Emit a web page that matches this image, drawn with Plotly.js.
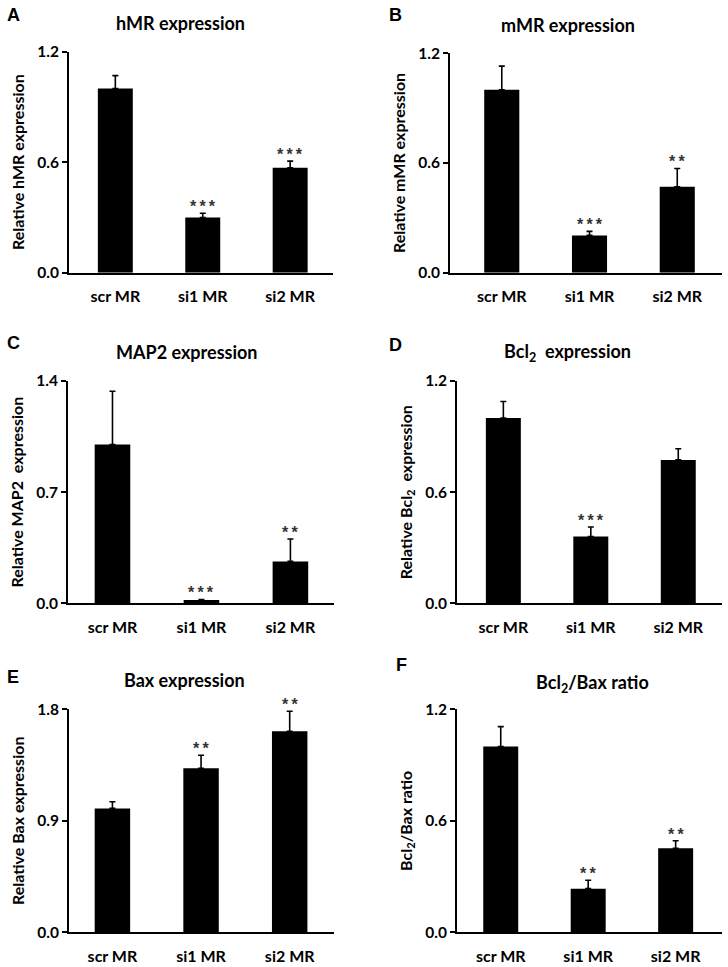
<!DOCTYPE html>
<html>
<head>
<meta charset="utf-8">
<script src="https://cdn.plot.ly/plotly-3.0.1.min.js"></script>
<style>html,body{margin:0;padding:0;background:#fff;}#chart{width:728px;height:967px;}</style>
</head>
<body>
<div id="chart"></div>
<script>
// ---- data ----
const categories = ['scr MR', 'si1 MR', 'si2 MR'];

const hMR = [1.00, 0.30, 0.57];
const hMRErr = [0.07, 0.023, 0.036];
const hMRSig = ['', '***', '***'];

const mMR = [1.00, 0.204, 0.47];
const mMRErr = [0.13, 0.022, 0.10];
const mMRSig = ['', '***', '**'];

const MAP2 = [1.00, 0.021, 0.264];
const MAP2Err = [0.335, 0.003, 0.141];
const MAP2Sig = ['', '***', '**'];

const Bcl2 = [1.00, 0.36, 0.774];
const Bcl2Err = [0.089, 0.052, 0.06];
const Bcl2Sig = ['', '***', ''];

const Bax = [1.00, 1.324, 1.622];
const BaxErr = [0.054, 0.105, 0.162];
const BaxSig = ['', '**', '**'];

const ratio = [1.00, 0.235, 0.452];
const ratioErr = [0.107, 0.045, 0.041];
const ratioSig = ['', '**', '**'];

const panelLetters = ['A', 'B', 'C', 'D', 'E', 'F'];
const panelTitles = ['hMR expression', 'mMR expression', 'MAP2 expression',
  'Bcl<sub>2</sub>  expression', 'Bax expression', 'Bcl<sub>2</sub>/Bax ratio'];
const yTitles = ['Relative hMR expression', 'Relative mMR expression', 'Relative MAP2  expression',
  'Relative Bcl<sub>2</sub>  expression', 'Relative Bax expression', 'Bcl<sub>2</sub>/Bax ratio'];
const yTicks = [[0, 0.6, 1.2], [0, 0.6, 1.2], [0, 0.7, 1.4], [0, 0.6, 1.2], [0, 0.9, 1.8], [0, 0.6, 1.2]];

// ---- layout geometry (pixels) ----
const W = 728, H = 967;
const panels = [
  {v: hMR, e: hMRErr, s: hMRSig, xd: [69, 333], yd: [51.7, 272.7], xr: [-0.53, 2.49],
   title: [180, 23], letter: [13, 15]},
  {v: mMR, e: mMRErr, s: mMRSig, xd: [450, 722], yd: [53.3, 272.7], xr: [-0.59, 2.51],
   title: [568, 25], letter: [396, 15]},
  {v: MAP2, e: MAP2Err, s: MAP2Sig, xd: [68, 334], yd: [381, 603.3], xr: [-0.5, 2.49],
   title: [187, 352], letter: [13, 343]},
  {v: Bcl2, e: Bcl2Err, s: Bcl2Sig, xd: [457, 722], yd: [381, 603.3], xr: [-0.53, 2.5],
   title: [567, 352], letter: [396, 345]},
  {v: Bax, e: BaxErr, s: BaxSig, xd: [69, 334], yd: [709.3, 932.3], xr: [-0.49, 2.5],
   title: [184, 680], letter: [13, 677]},
  {v: ratio, e: ratioErr, s: ratioSig, xd: [457, 722], yd: [709.3, 932.3], xr: [-0.5, 2.53],
   title: [592, 683], letter: [401, 665]}
];

const FONT = 'Lato, "Open Sans", sans-serif';
const px = x => x / W;
const py = y => 1 - y / H;

const data = [];
const layout = {
  width: W, height: H,
  margin: {l: 0, r: 0, t: 0, b: 0},
  paper_bgcolor: '#ffffff', plot_bgcolor: '#ffffff',
  showlegend: false,
  font: {family: FONT, color: '#000', size: 14, weight: 'bold'},
  annotations: []
};

panels.forEach((p, i) => {
  const n = i + 1;
  const xa = n === 1 ? 'x' : 'x' + n;
  const ya = n === 1 ? 'y' : 'y' + n;
  const xk = n === 1 ? 'xaxis' : 'xaxis' + n;
  const yk = n === 1 ? 'yaxis' : 'yaxis' + n;
  const ticks = yTicks[i];
  data.push({
    type: 'bar', x: categories, y: p.v, xaxis: xa, yaxis: ya,
    width: 0.4,
    marker: {color: '#000', line: {width: 0}},
    error_y: {type: 'data', symmetric: false, array: p.e, arrayminus: p.v.map(() => 0),
      color: '#000', thickness: 1.6, width: 3},
    hoverinfo: 'x+y'
  });
  layout[xk] = {
    domain: [px(p.xd[0]), px(p.xd[1])], anchor: ya, range: p.xr, type: 'category',
    showline: true, linecolor: '#000', linewidth: 2, ticks: '', showgrid: false, zeroline: false,
    tickfont: {family: FONT, size: 16, color: '#000', weight: 'bold'}, ticklen: 0,
    ticklabelstandoff: 8,
    fixedrange: true
  };
  layout[yk] = {
    domain: [py(p.yd[1]), py(p.yd[0])], anchor: xa, range: [ticks[0], ticks[2]],
    tickvals: ticks, ticktext: ticks.map(t => t.toFixed(1)),
    showline: true, linecolor: '#000', linewidth: 2, ticks: 'outside', ticklen: 5, tickwidth: 2,
    tickcolor: '#000', showgrid: false, zeroline: false,
    tickfont: {family: FONT, size: 15.5, color: '#000', weight: 'bold'},
    title: {text: yTitles[i], font: {family: FONT, size: 16, color: '#000', weight: 'bold'}, standoff: 9},
    fixedrange: true
  };
  // panel title
  layout.annotations.push({
    xref: 'paper', yref: 'paper', x: px(p.title[0]), y: py(p.title[1]),
    xanchor: 'center', yanchor: 'middle', showarrow: false,
    text: panelTitles[i], font: {family: FONT, size: 18, color: '#000', weight: 'bold'}
  });
  // panel letter
  layout.annotations.push({
    xref: 'paper', yref: 'paper', x: px(p.letter[0]), y: py(p.letter[1]),
    xanchor: 'center', yanchor: 'middle', showarrow: false,
    text: panelLetters[i], font: {family: 'Liberation Sans, Arial, sans-serif', size: 18, color: '#000', weight: 'bold'}
  });
  // significance stars
  p.s.forEach((s, j) => {
    if (!s) return;
    layout.annotations.push({
      xref: xa, yref: ya, x: categories[j], y: p.v[j] + p.e[j],
      xanchor: 'center', yanchor: 'bottom', yshift: -4, showarrow: false,
      text: s.split('').join('\u2009'), font: {family: 'Liberation Sans, Arial, sans-serif', size: 16, color: '#333', weight: 'bold'}
    });
  });
});

Plotly.newPlot('chart', data, layout, {staticPlot: true, displayModeBar: false});
</script>
</body>
</html>
